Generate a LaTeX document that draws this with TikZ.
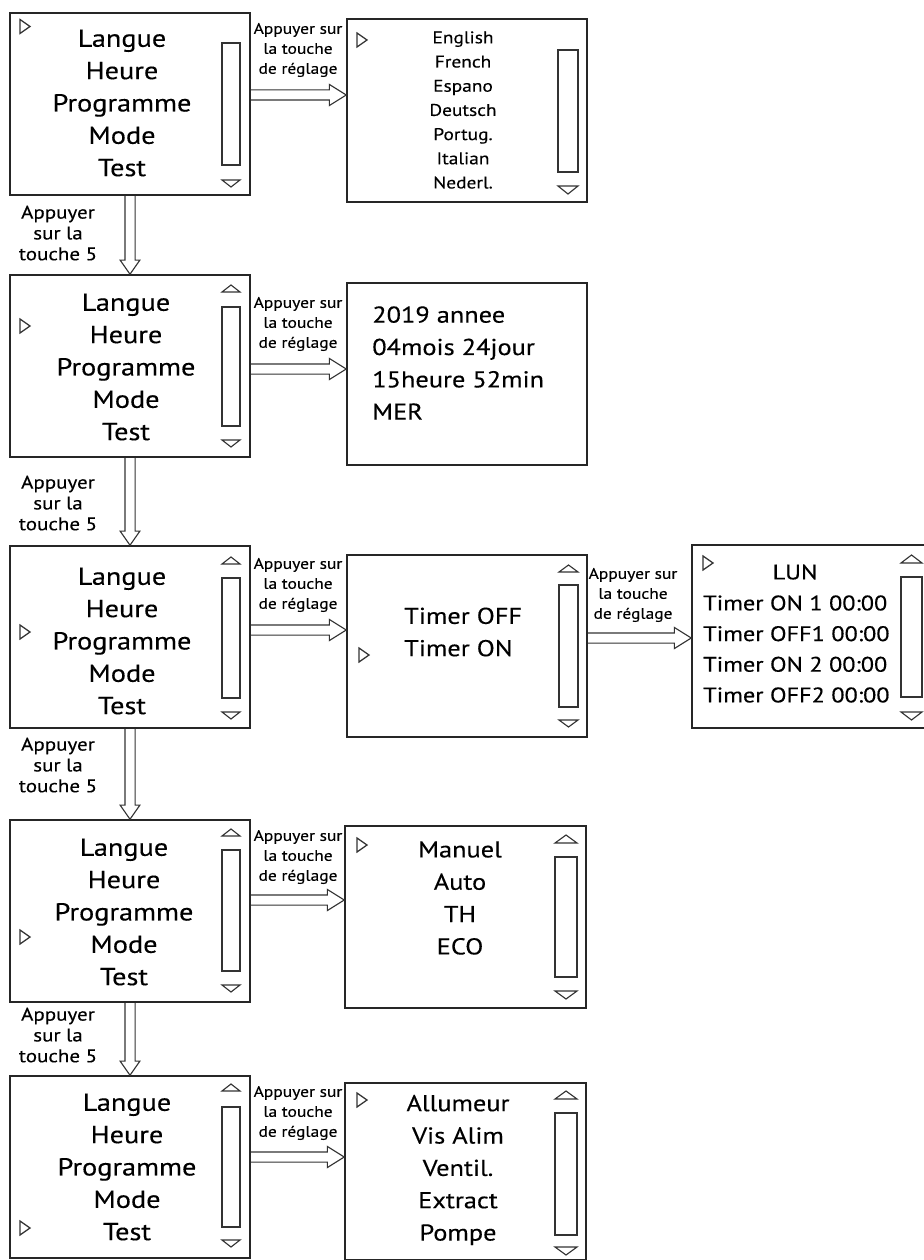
\documentclass[tikz,border=0pt]{standalone}
\usepackage{fontspec}
\setmainfont[FakeStretch=1.15,FakeBold=0.3]{PT Sans}
\usetikzlibrary{positioning,calc,fit}

\begin{document}
\begin{tikzpicture}[x=0.025cm,y=-0.025cm,
    box/.style={draw=black!85,line width=1.1pt,inner sep=0pt},
    bar/.style={draw=black!80,line width=0.8pt},
    ptr/.style={draw=black!80,line width=0.9pt},
    menu/.style={font=\fontsize{17.5}{23}\selectfont,align=center,inner sep=0pt},
    big/.style={font=\fontsize{16.3}{23}\selectfont,align=center,inner sep=0pt},
    lang/.style={font=\fontsize{12}{17.2}\selectfont,align=center,inner sep=0pt},
    timer/.style={font=\fontsize{15}{21.8}\selectfont,align=left,inner sep=0pt},
    hlab/.style={font=\fontsize{10.8}{14.2}\selectfont,align=center,inner sep=0pt},
    vlab/.style={font=\fontsize{13}{14.8}\selectfont,align=center,inner sep=0pt},
    pushr/.style={draw=black!80,line width=0.8pt,to path={
        ([yshift=3.6pt]\tikztostart) -- ([xshift=-12pt,yshift=3.6pt]\tikztotarget)
        -- ([xshift=-12pt,yshift=7.5pt]\tikztotarget) -- (\tikztotarget)
        -- ([xshift=-12pt,yshift=-7.5pt]\tikztotarget) -- ([xshift=-12pt,yshift=-3.6pt]\tikztotarget)
        -- ([yshift=-3.6pt]\tikztostart)}},
    pushd/.style={draw=black!80,line width=0.8pt,to path={
        ([xshift=-3.6pt]\tikztostart) -- ([xshift=-3.6pt,yshift=10pt]\tikztotarget)
        -- ([xshift=-7pt,yshift=10pt]\tikztotarget) -- (\tikztotarget)
        -- ([xshift=7pt,yshift=10pt]\tikztotarget) -- ([xshift=3.6pt,yshift=10pt]\tikztotarget)
        -- ([xshift=3.6pt]\tikztostart)}}
  ]
    \useasboundingbox (0,0) rectangle (923,1260);

    % first row: language
    \node[box,fit={(10,13) (250,195)}] (L1) {};
    \node[menu] (L1t) at (122,103) {Langue\\Heure\\Programme\\Mode\\Test};
    \node[box,fit={(347,19) (587,202)}] (S1) {};
    \node[lang] (S1t) at (463,110) {English\\French\\Espano\\Deutsch\\Portug.\\Italian\\Nederl.};

    \draw[ptr] (20,19.5) -- (30,26.5) -- (20,33.5) -- cycle;
    \draw[bar] (222,43) rectangle (240,165);
    \draw[bar] (222,180) -- (240,180) -- (231,187) -- cycle;
    \draw[ptr] (357,33) -- (367,40) -- (357,47) -- cycle;
    \draw[bar] (558,50) rectangle (578,172);
    \draw[bar] (558,186) -- (578,186) -- (568,194) -- cycle;

    \coordinate (h1a) at (L1.east |- 0,95);
    \coordinate (h1b) at (S1.west |- 0,95);
    \draw[pushr] (h1a) to (h1b);
    \node[hlab] (h1t) at (298,50) {Appuyer sur\\la touche\\de réglage};

    % second row: time
    \node[box,fit={(10,275) (250,457)}] (L2) {};
    \node[menu] (L2t) at (126,367) {Langue\\Heure\\Programme\\Mode\\Test};
    \node[box,fit={(347,283) (587,465)}] (S2) {};
    \node[big,align=left,anchor=west] (S2t) at (372,363) {2019 annee\\04mois 24jour\\15heure 52min\\MER};

    \draw[pushd] (L1.south) to (L2.north);
    \node[vlab] (v1t) at (58,233) {Appuyer\\sur la\\touche 5};

    \draw[ptr] (20,319) -- (30,326) -- (20,333) -- cycle;
    \draw[bar] (222,292) -- (231,285) -- (240,292) -- cycle;
    \draw[bar] (222,307) rectangle (240,426);
    \draw[bar] (222,440) -- (240,440) -- (231,447) -- cycle;

    \coordinate (h2a) at (L2.east |- 0,369);
    \coordinate (h2b) at (S2.west |- 0,369);
    \draw[pushr] (h2a) to (h2b);
    \node[hlab] (h2t) at (298,324) {Appuyer sur\\la touche\\de réglage};

    % third row: program
    \node[box,fit={(10,546) (250,728)}] (L3) {};
    \node[menu] (L3t) at (122,641) {Langue\\Heure\\Programme\\Mode\\Test};
    \node[box,fit={(347,555) (587,737)}] (S3) {};
    \node[big,align=left,anchor=west] (S3t) at (404,632) {Timer OFF\\Timer ON};
    \node[box,fit={(692,545) (925,728)}] (T3) {};
    \node[timer] (T3d) at (795,572) {LUN};
    \node[timer,anchor=west] (T3t) at (703,649) {Timer ON 1 00:00\\Timer OFF1 00:00\\Timer ON 2 00:00\\Timer OFF2 00:00};

    \draw[pushd] (L2.south) to (L3.north);
    \node[vlab] (v2t) at (58,503) {Appuyer\\sur la\\touche 5};

    \draw[ptr] (20,625) -- (30,632) -- (20,639) -- cycle;
    \draw[bar] (222,564) -- (231,557) -- (240,564) -- cycle;
    \draw[bar] (222,578) rectangle (240,698);
    \draw[bar] (222,712) -- (240,712) -- (231,719) -- cycle;
    \draw[ptr] (359,648) -- (369,655) -- (359,662) -- cycle;
    \draw[bar] (559,572) -- (568.5,565) -- (578,572) -- cycle;
    \draw[bar] (559,585) rectangle (578,707);
    \draw[bar] (559,720) -- (578,720) -- (568.5,727) -- cycle;
    \draw[ptr] (703,556) -- (713,563) -- (703,570) -- cycle;
    \draw[bar] (901,563) -- (911.5,555) -- (922,563) -- cycle;
    \draw[bar] (901,577) rectangle (922,697);
    \draw[bar] (901,712) -- (922,712) -- (911.5,720) -- cycle;

    \coordinate (h3a) at (L3.east |- 0,630);
    \coordinate (h3b) at (S3.west |- 0,630);
    \draw[pushr] (h3a) to (h3b);
    \node[hlab] (h3t) at (298,585) {Appuyer sur\\la touche\\de réglage};
    \coordinate (h3c) at (S3.east |- 0,638);
    \coordinate (h3d) at (T3.west |- 0,638);
    \draw[pushr] (h3c) to (h3d);
    \node[hlab] (h3u) at (633,595) {Appuyer sur\\la touche\\de réglage};

    % fourth row: mode
    \node[box,fit={(10,820) (250,1002)}] (L4) {};
    \node[menu] (L4t) at (124,912) {Langue\\Heure\\Programme\\Mode\\Test};
    \node[box,fit={(345,826) (586,1008)}] (S4) {};
    \node[big] (S4t) at (460,898) {Manuel\\Auto\\TH\\ECO};

    \draw[pushd] (L3.south) to (L4.north);
    \node[vlab] (v3t) at (58,765) {Appuyer\\sur la\\touche 5};

    \draw[ptr] (20,930) -- (30,937) -- (20,944) -- cycle;
    \draw[bar] (222,836) -- (231,829) -- (240,836) -- cycle;
    \draw[bar] (222,850) rectangle (240,971);
    \draw[bar] (222,985) -- (240,985) -- (231,992) -- cycle;
    \draw[ptr] (357,838) -- (367,845) -- (357,852) -- cycle;
    \draw[bar] (555,843) -- (566,835) -- (577,843) -- cycle;
    \draw[bar] (555,857) rectangle (577,977);
    \draw[bar] (555,991) -- (577,991) -- (566,999) -- cycle;

    \coordinate (h4a) at (L4.east |- 0,900);
    \coordinate (h4b) at (S4.west |- 0,900);
    \draw[pushr] (h4a) to (h4b);
    \node[hlab] (h4t) at (298,857) {Appuyer sur\\la touche\\de réglage};

    % fifth row: test
    \node[box,fit={(10,1076) (250,1258)}] (L5) {};
    \node[menu] (L5t) at (127,1167) {Langue\\Heure\\Programme\\Mode\\Test};
    \node[box,fit={(345,1083) (586,1259.5)}] (S5) {};
    \node[big] (S5t) at (458,1170) {Allumeur\\Vis Alim\\Ventil.\\Extract\\Pompe};

    \draw[pushd] (L4.south) to (L5.north);
    \node[vlab] (v4t) at (58,1035) {Appuyer\\sur la\\touche 5};

    \draw[ptr] (20,1221) -- (30,1228) -- (20,1235) -- cycle;
    \draw[bar] (222,1091) -- (231,1084) -- (240,1091) -- cycle;
    \draw[bar] (222,1107) rectangle (240,1227);
    \draw[bar] (222,1240) -- (240,1240) -- (231,1247) -- cycle;
    \draw[ptr] (357,1093) -- (367,1100) -- (357,1107) -- cycle;
    \draw[bar] (555,1099) -- (566,1091) -- (577,1099) -- cycle;
    \draw[bar] (555,1113) rectangle (577,1235);
    \draw[bar] (555,1247) -- (577,1247) -- (566,1255) -- cycle;

    \coordinate (h5a) at (L5.east |- 0,1157);
    \coordinate (h5b) at (S5.west |- 0,1157);
    \draw[pushr] (h5a) to (h5b);
    \node[hlab] (h5t) at (298,1113) {Appuyer sur\\la touche\\de réglage};
\end{tikzpicture}
\end{document}
